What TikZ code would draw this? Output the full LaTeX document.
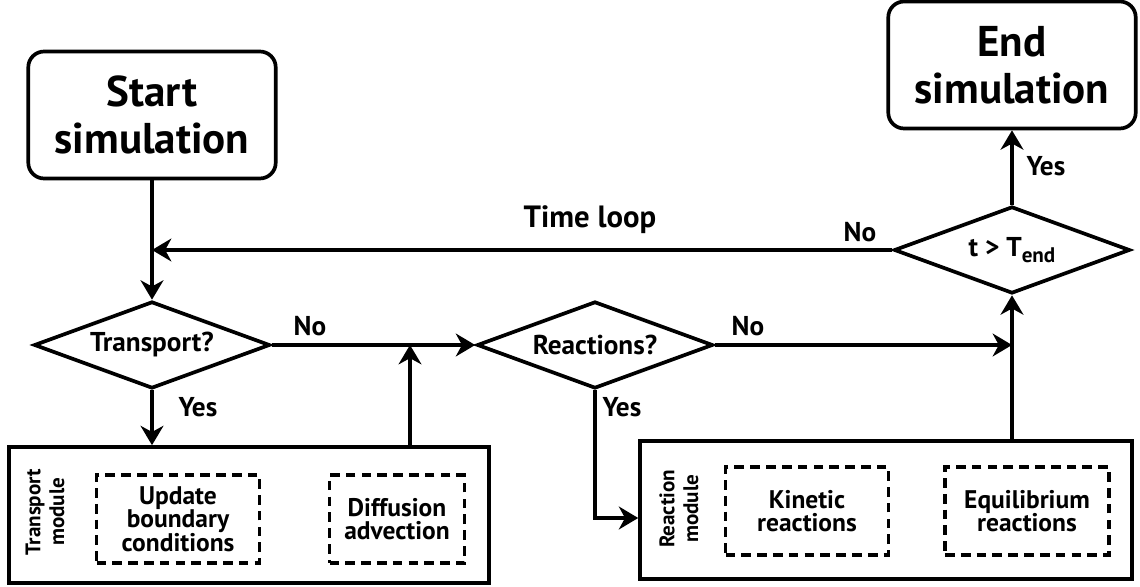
\documentclass[tikz,border=0pt]{standalone}
\usepackage{fontspec}
\setmainfont{PT Sans}
\usetikzlibrary{shapes.geometric,arrows.meta}

\begin{document}
\begin{tikzpicture}[x=0.02cm, y=-0.02cm, line width=2.1pt,
  terminal/.style={draw, rounded corners=9pt, minimum width=4.95cm, minimum height=2.54cm, align=center, font=\fontsize{24.5}{27}\selectfont\bfseries},
  decision/.style={draw, diamond, aspect=2.7, inner sep=0pt, minimum width=4.72cm, minimum height=1.74cm, font=\fontsize{15.5}{17}\selectfont\bfseries},
  module/.style={draw, rectangle, inner sep=0pt},
  submodule/.style={draw, dash pattern=on 5.5pt off 3.5pt, align=center, inner sep=0pt, font=\fontsize{14.5}{13.5}\selectfont\bfseries},
  modlabel/.style={rotate=90, align=center, font=\fontsize{12}{13.5}\selectfont\bfseries},
  answer/.style={font=\fontsize{15.5}{17}\selectfont\bfseries},
  flow/.style={-{Stealth[length=11pt, width=13pt, inset=3.5pt]}}]
\useasboundingbox (0,0) rectangle (1140,587);

% Start / end of the run
\node[terminal] (start) at (152,115) {Start\\simulation};
\node[terminal] (endsim) at (1012,65) {End\\simulation};

% Decisions
\node[decision] (tend) at (1012,250) {t > T\raisebox{-0.45ex}{\fontsize{12}{12}\selectfont end}};
\node[decision] (transport) at (152,345) {Transport?};
\node[decision] (reactions) at (595,345) {Reactions?};

% Transport module
\node[module, minimum width=9.6cm, minimum height=2.72cm] (transbox) at (249,515) {};
\node[modlabel] (translabel) at (45,512) {Transport\\module};
\node[submodule, minimum width=3.26cm, minimum height=1.76cm] (update) at (178,519) {Update\\boundary\\conditions};
\node[submodule, minimum width=2.7cm, minimum height=1.76cm] (diffusion) at (397,519) {Diffusion\\advection};

% Reaction module
\node[module, minimum width=9.84cm, minimum height=2.76cm] (reactbox) at (886,510) {};
\node[modlabel] (reactlabel) at (679,509) {Reaction\\module};
\node[submodule, minimum width=3.26cm, minimum height=1.76cm] (kinetic) at (807,511) {Kinetic\\reactions};
\node[submodule, minimum width=3.28cm, minimum height=1.76cm] (equil) at (1027,511) {Equilibrium\\reactions};

% Connectors
\coordinate (merge) at (410,345);
\draw[flow] (start) -- (transport);
\draw[flow] (tend.west) -- (tend.west -| start.south);
\draw[flow] (tend) -- (endsim);
\draw[flow] (transport) -- (reactions);
\draw[flow] (transport.south) -- (transport.south |- transbox.north);
\draw[flow] (merge |- transbox.north) -- (merge);
\draw[flow] (reactions.east) -- (tend.south |- reactions.east);
\draw[flow] (tend.south |- reactbox.north) -- (tend.south);
\draw[flow] (reactions.south) |- (reactbox.west |- 0,518);

% Labels on the connectors
\node[font=\fontsize{17.5}{19}\selectfont\bfseries] (looplabel) at (590,220) {Time loop};
\node[answer] (tendno) at (860,232) {No};
\node[answer] (tendyes) at (1046,166) {Yes};
\node[answer] (transno) at (310,326) {No};
\node[answer] (transyes) at (198,407) {Yes};
\node[answer] (reactno) at (748,326) {No};
\node[answer] (reactyes) at (622,407) {Yes};
\end{tikzpicture}
\end{document}
